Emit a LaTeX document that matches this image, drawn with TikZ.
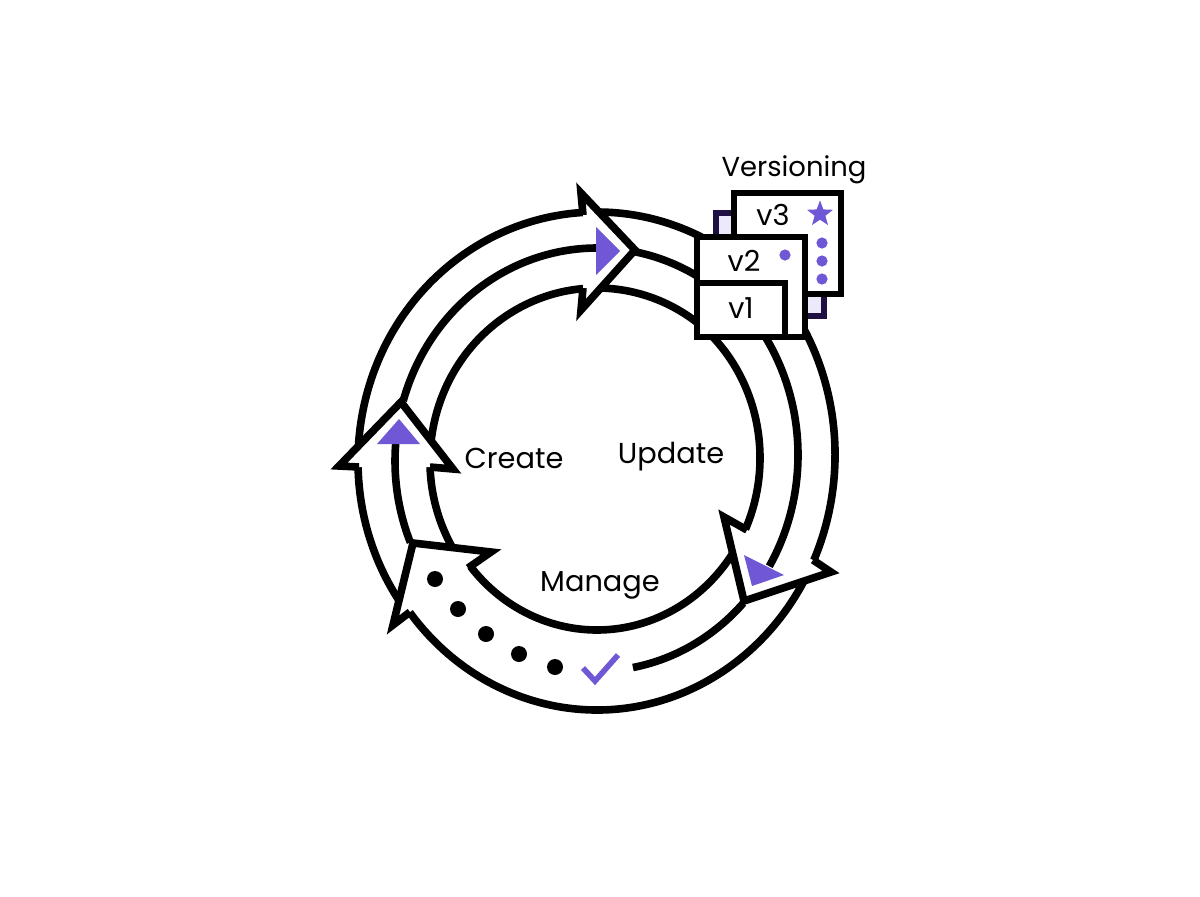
\documentclass[tikz,border=0pt]{standalone}
\usepackage{fontspec}
\setmainfont{Poppins}
\definecolor{MainPurple}{RGB}{111, 87, 214}
\definecolor{BackNavy}{RGB}{30, 16, 66}
\definecolor{BackFill}{RGB}{236, 234, 250}
\usetikzlibrary{shapes.geometric}
% cx,cy / x radius / y radius / start angle / end angle
\newcommand{\ringarc}[5]{\draw[ring] (#1) ++(#4:#2 and #3) arc[start angle=#4, end angle=#5, x radius=#2, y radius=#3];}

\begin{document}
\begin{tikzpicture}[
        x=0.025cm, y=-0.025cm,
        ring/.style={line width=0.19cm, black},
        head/.style={line width=0.19cm, black, fill=white, miter limit=10},
        pointer/.style={fill=MainPurple, draw=none},
        sheet/.style={line width=0.17cm, black, fill=white},
        label/.style={font=\fontsize{20.5}{24}\selectfont, inner sep=0pt, anchor=base},
        blackdot/.style={circle, fill=black, minimum size=0.4cm, inner sep=0pt},
        purpledot/.style={circle, fill=MainPurple, minimum size=0.28cm, inner sep=0pt}
    ]
        \useasboundingbox (0, 0) rectangle (1200, 896);

        % Outer and inner rings
        \ringarc{597,461}{239}{249}{142}{296}
        \ringarc{597,455}{238}{255}{-30}{142}
        \ringarc{597,461}{167}{173}{150}{310}
        \ringarc{597,458}{163}{172}{-45}{141}

        % Arrow heads
        \draw[head] (583, 215) -- (581, 193) -- (635, 250) -- (581, 310) -- (583, 288);
        \draw[head] (747, 530) -- (724, 517) -- (744, 601) -- (831, 572) -- (813, 560);
        \draw[head] (468, 568) -- (491, 552) -- (413, 543) -- (393, 625) -- (410, 612);
        \draw[head] (359, 467) -- (339, 466) -- (401, 402) -- (453, 469) -- (430, 467);

        % Middle ring
        \ringarc{597,461}{202}{213}{157.5}{184.6}
        \ringarc{597,461}{202}{213}{196.4}{270}
        \ringarc{597,461}{202}{213}{281}{300}
        \ringarc{597,455}{201}{216}{-35}{31}
        \ringarc{597,455}{201}{216}{43.3}{79.7}

        % Pointers
        \fill[pointer] (596, 227) -- (620, 251) -- (596, 275) -- cycle;
        \fill[pointer] (744, 555) -- (752, 586) -- (784, 575) -- cycle;
        \fill[pointer] (377, 444) -- (399, 419) -- (420, 444) -- cycle;

        % Checklist
        \node[blackdot] (d1) at (435, 579) {};
        \node[blackdot] (d2) at (458, 609) {};
        \node[blackdot] (d3) at (486, 634) {};
        \node[blackdot] (d4) at (519, 654) {};
        \node[blackdot] (d5) at (555, 667) {};
        \draw[MainPurple, line width=0.14cm] (583, 668) -- (595, 681) -- (618, 655);

        % Versions
        \draw[line width=0.14cm, BackNavy, fill=BackFill] (716, 213) rectangle (824, 316);
        \draw[sheet] (734, 193) rectangle (841, 294);
        \draw[sheet] (697, 237) rectangle (805, 337);
        \draw[sheet] (697, 283) rectangle (785, 337);
        \node[star, star points=5, star point ratio=2.4, fill=MainPurple, minimum size=0.68cm, inner sep=0pt] (star3) at (820, 214) {};
        \node[purpledot] (dot2) at (785, 255) {};
        \node[purpledot] (dot3a) at (822, 243) {};
        \node[purpledot] (dot3b) at (822, 261) {};
        \node[purpledot] (dot3c) at (822, 279) {};

        % Labels
        \node[label] (v3) at (773, 225) {v3};
        \node[label] (v2) at (744, 271) {v2};
        \node[label] (v1) at (741, 318) {v1};
        \node[label, font=\fontsize{19.5}{23}\selectfont] (versioning) at (794, 176) {Versioning};
        \node[label] (create) at (514, 468) {Create};
        \node[label] (update) at (671, 463) {Update};
        \node[label] (manage) at (600, 591) {Manage};
    \end{tikzpicture}
\end{document}
